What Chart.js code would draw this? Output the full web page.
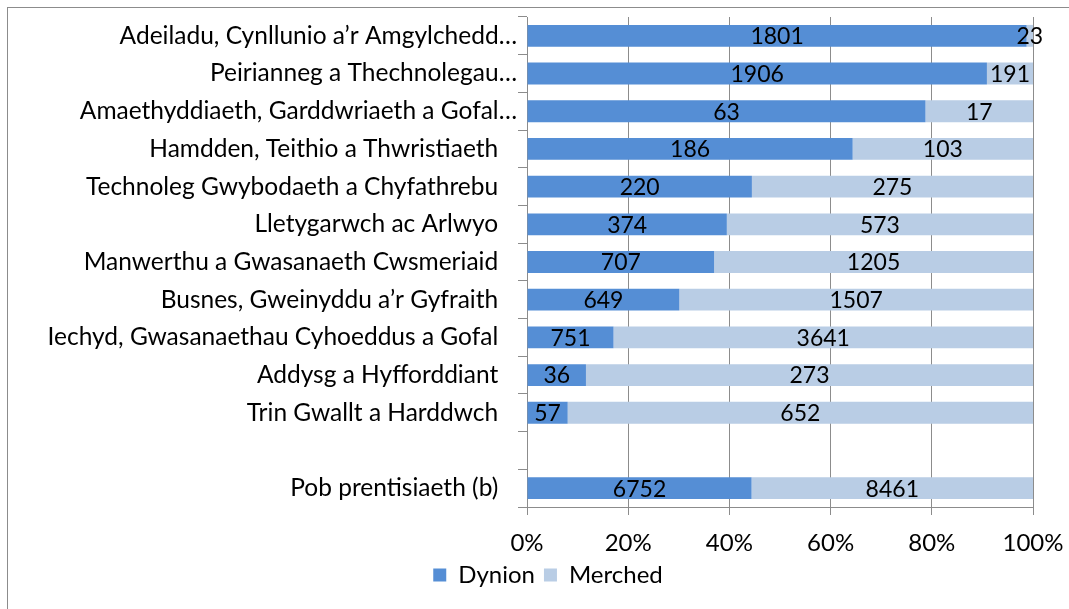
<!DOCTYPE html>
<html>
<head>
<meta charset="utf-8">
<script src="https://cdn.jsdelivr.net/npm/chart.js@4"></script>
<style>
	html, body { margin: 0; padding: 0; background: #fff; overflow: hidden; }
	#wrap { position: relative; width: 1069px; height: 609px; }
	#frame { position: absolute; left: 7px; top: 7px; width: 1100px; height: 700px; border: 1px solid #8c8c8c; }
	canvas { position: absolute; left: 0; top: 0; }
</style>
</head>
<body>
<div id="wrap">
	<div id="frame"></div>
	<canvas id="chart" width="1069" height="609"></canvas>
</div>
<script>
// Categories (top to bottom) - one blank row before the total
const categories = [
	'Adeiladu, Cynllunio a\u2019r Amgylchedd\u2026',
	'Peirianneg a Thechnolegau\u2026',
	'Amaethyddiaeth, Garddwriaeth a Gofal\u2026',
	'Hamdden, Teithio a Thwristiaeth   ',
	'Technoleg Gwybodaeth a Chyfathrebu   ',
	'Lletygarwch ac Arlwyo   ',
	'Manwerthu a Gwasanaeth Cwsmeriaid   ',
	'Busnes, Gweinyddu a\u2019r Gyfraith   ',
	'Iechyd, Gwasanaethau Cyhoeddus a Gofal   ',
	'Addysg a Hyfforddiant   ',
	'Trin Gwallt a Harddwch   ',
	'',
	'Pob prentisiaeth (b)   '
];

// Counts per series
const dynion = [1801, 1906, 63, 186, 220, 374, 707, 649, 751, 36, 57, null, 6752];
const merched = [23, 191, 17, 103, 275, 573, 1205, 1507, 3641, 273, 652, null, 8461];

const xTicks = [0, 20, 40, 60, 80, 100];

const seriesNames = ['Dynion', 'Merched'];
const colours = ['#558ed5', '#b9cde5'];
const gridColour = '#8c8c8c';
const fontFamily = 'Lato, "Open Sans", sans-serif';

// convert counts to share of row total (100% stacked)
function to_percent(values, other) {
	return values.map((v, i) => {
		if (v === null) return null;
		return v / (v + other[i]) * 100;
	});
}

const counts = [dynion, merched];

// Draw the raw counts centred in each segment
const valueLabels = {
	id: 'valueLabels',
	afterDatasetsDraw(chart) {
		const ctx = chart.ctx;
		ctx.save();
		ctx.font = '23px ' + fontFamily;
		ctx.fillStyle = '#000';
		ctx.textAlign = 'center';
		ctx.textBaseline = 'middle';
		chart.data.datasets.forEach((ds, di) => {
			const meta = chart.getDatasetMeta(di);
			meta.data.forEach((bar, i) => {
				const v = counts[di][i];
				if (v === null) return;
				const x = (bar.x + bar.base) / 2;
				ctx.fillText(String(v), x, bar.y + 1);
			});
		});
		ctx.restore();
	}
};

// Long category labels run past the left padding; widen the y label clip area
const labelRoom = {
	id: 'labelRoom',
	afterLayout(chart) {
		chart.scales.y.left = 0;
	}
};

new Chart(document.getElementById('chart'), {
	type: 'bar',
	data: {
		labels: categories,
		datasets: [{
			label: seriesNames[0],
			data: to_percent(dynion, merched),
			backgroundColor: colours[0]
		}, {
			label: seriesNames[1],
			data: to_percent(merched, dynion),
			backgroundColor: colours[1]
		}]
	},
	options: {
		indexAxis: 'y',
		responsive: false,
		animation: false,
		layout: {
			padding: { left: 63, right: 36, top: 17, bottom: 12 }
		},
		datasets: {
			bar: {
				categoryPercentage: 1,
				barPercentage: 0.58
			}
		},
		plugins: {
			legend: {
				position: 'bottom',
				labels: {
					boxWidth: 13,
					boxHeight: 13,
					padding: 9,
					color: '#000',
					font: { family: fontFamily, size: 24 }
				}
			},
			tooltip: { enabled: false }
		},
		scales: {
			x: {
				stacked: true,
				min: 0,
				max: 100,
				afterBuildTicks: (scale) => {
					scale.ticks = xTicks.map(v => ({ value: v }));
				},
				afterFit: (scale) => {
					scale.height = 47;
					// keep the plot right edge fixed, the last label may overhang
					scale.paddingLeft = 0;
					scale.paddingRight = 0;
				},
				ticks: {
					padding: 14,
					color: '#000',
					font: { family: fontFamily, size: 24 },
					callback: (v) => v + '%'
				},
				grid: {
					color: gridColour,
					tickLength: 8
				},
				border: { color: gridColour }
			},
			y: {
				stacked: true,
				afterFit: (scale) => {
					scale.width = 527 - 63;
				},
				ticks: {
					padding: 1,
					color: '#000',
					font: { family: fontFamily, size: 24.5 }
				},
				grid: {
					drawOnChartArea: false,
					color: gridColour,
					tickLength: 9
				},
				border: { color: gridColour }
			}
		}
	},
	plugins: [valueLabels, labelRoom]
});
</script>
</body>
</html>
